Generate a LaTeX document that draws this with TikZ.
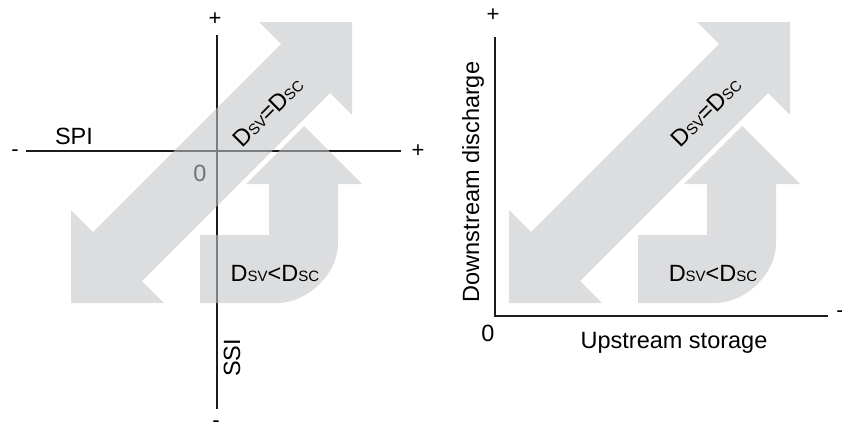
\documentclass[tikz,border=0pt]{standalone}
\usepackage{fontspec}
\setmainfont{Liberation Sans}
\usetikzlibrary{positioning}
\definecolor{pfeilgrau}{RGB}{195,197,200}
\definecolor{achse}{HTML}{1C1C1C}
\tikzset{
  ax/.style={achse,line width=1.8pt},
  pfeil/.style={fill=pfeilgrau,fill opacity=0.58,draw=none},
  lab/.style={inner sep=0pt,font=\fontsize{23.5}{28}\selectfont},
  zeichen/.style={inner sep=0pt,font=\fontsize{22}{26}\selectfont},
}
\newcommand{\dind}[1]{D{\fontsize{15}{15}\selectfont #1}}

\begin{document}
\begin{tikzpicture}[x=1pt,y=-1pt]
  \useasboundingbox (0,0) rectangle (842,431);
  % left panel: SPI / SSI
  \coordinate (l-n) at (217,35);  \coordinate (l-s) at (217,409);
  \coordinate (l-w) at (26,151);  \coordinate (l-e) at (401,151);
  \draw[ax] (l-n) -- (l-s);
  \draw[ax] (l-w) -- (l-e);
  \node[zeichen] (l-plus-n) at (215,19) {+};
  \node[zeichen] (l-minus-s) at (216,424) {-};
  \node[zeichen] (l-minus-w) at (15,153) {-};
  \node[zeichen] (l-plus-e) at (418,151) {+};
  \node[lab] (spi) at (74,136) {SPI};
  \node[lab] (null-l) at (200,173) {0};
  \node[lab,rotate=90] (ssi) at (232,358) {SSI};
  % right panel: storage / discharge
  \coordinate (r-n) at (495,37); \coordinate (r-o) at (495,316);
  \coordinate (r-e) at (828,316);
  \draw[ax] (r-n) -- (r-o) -- (r-e);
  \node[zeichen] (r-plus-n) at (493,15) {+};
  \node[zeichen] (r-minus-e) at (840,314) {-};
  \node[lab] (null-r) at (488,333) {0};
  \node[lab,rotate=90] (down) at (473,182) {Downstream discharge};
  \node[lab] (up) at (674,343) {Upstream storage};
  % grey arrows, same in both panels
  \foreach \dx/\nm in {0/l,438/r}{
    \begin{scope}[xshift=\dx pt]
      \fill[pfeil] (352,22) -- (259,22) -- (281,44) -- (93,232) -- (71,210) -- (71,303)
        -- (164,303) -- (142,281) -- (330,93) -- (352,115) -- cycle;
      \fill[pfeil] (304,126) -- (362,184) -- (338,184) -- (338,243)
        .. controls (338,276) and (305,303) .. (278,303) -- (200,303) -- (200,235)
        -- (269,235) -- (269,184) -- (246,184) -- cycle;
      \node[lab,rotate=45] (gleich-\nm) at (268,112) {\dind{SV}=\dind{SC}};
      \node[lab] (kleiner-\nm) at (275,273) {\dind{SV}<\dind{SC}};
    \end{scope}}
\end{tikzpicture}
\end{document}
